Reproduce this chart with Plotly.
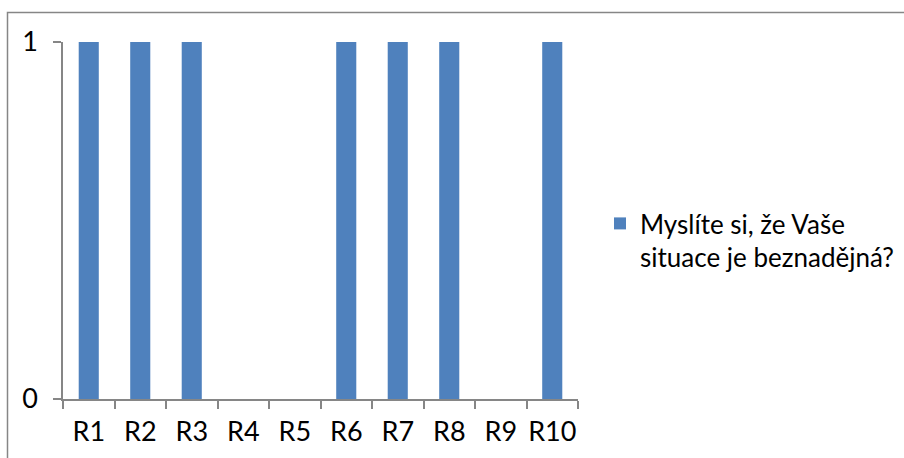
import plotly.graph_objects as go

# Survey answers per respondent (1 = yes, 0 = no)
respondents = ["R1", "R2", "R3", "R4", "R5", "R6", "R7", "R8", "R9", "R10"]
answers = [1, 1, 1, 0, 0, 1, 1, 1, 0, 1]
series_name = "Myslíte si, že Vaše<br>situace je beznadějná?"
y_ticks = [0, 1]

BAR_BLUE = "#4F81BD"
AXIS_GRAY = "#868686"
FONT = "Lato"
FS = 27
LEGEND_FS = 26

fig = go.Figure()
fig.add_trace(go.Bar(
    x=respondents,
    y=answers,
    name=series_name,
    marker=dict(color=BAR_BLUE, line=dict(width=0)),
    showlegend=True,
))

L, R, T, B = 63, 326, 42, 59
W, H = 904, 458
pw, ph = W - L - R, H - T - B

def px_to_paper_x(px):
    return (px - L) / pw

def px_to_paper_y(py):
    return (H - B - py) / ph

fig.update_layout(
    width=W, height=H,
    margin=dict(l=L, r=R, t=T, b=B, autoexpand=False),
    paper_bgcolor="white",
    plot_bgcolor="white",
    font=dict(family=FONT, size=FS, color="#000000"),
    bargap=0.61,
    legend=dict(
        x=px_to_paper_x(600), y=px_to_paper_y(200),
        xanchor="left", yanchor="top",
        valign="top",
        font=dict(family=FONT, size=LEGEND_FS, color="#000000"),
        bgcolor="rgba(0,0,0,0)",
        borderwidth=0,
    ),
    xaxis=dict(
        type="category",
        automargin=False,
        tickangle=0,
        showline=True, linecolor=AXIS_GRAY, linewidth=1.5,
        ticks="outside", ticklen=8, tickwidth=1.5, tickcolor=AXIS_GRAY,
        tickson="boundaries",
        ticklabelstandoff=8,
        showgrid=False,
        fixedrange=True,
    ),
    yaxis=dict(
        range=[0, 1],
        automargin=False,
        tickvals=y_ticks,
        showline=True, linecolor=AXIS_GRAY, linewidth=1.5,
        ticks="outside", ticklen=8, tickwidth=1.5, tickcolor=AXIS_GRAY,
        showgrid=True, gridcolor=AXIS_GRAY, gridwidth=1.5,
        zeroline=False,
        ticklabelstandoff=10,
        fixedrange=True,
    ),
    shapes=[dict(
        type="rect", xref="paper", yref="paper",
        x0=px_to_paper_x(7.5), x1=px_to_paper_x(920),
        y0=px_to_paper_y(480), y1=px_to_paper_y(12.5),
        line=dict(color=AXIS_GRAY, width=1.5),
        fillcolor="rgba(0,0,0,0)",
        layer="below",
    )],
)

fig.write_html("out.html")
